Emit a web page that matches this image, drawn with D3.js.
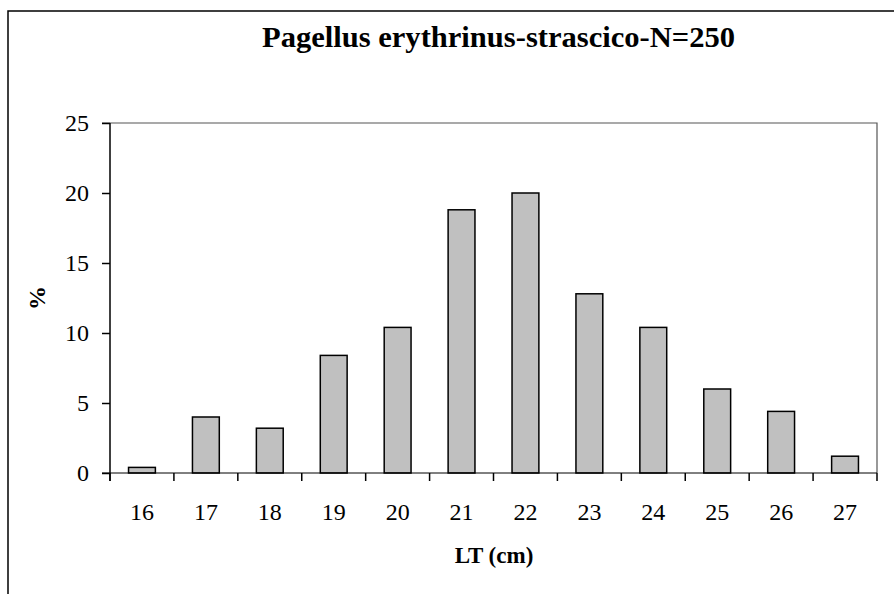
<!DOCTYPE html>
<html>
<head>
<meta charset="utf-8">
<script src="https://cdn.jsdelivr.net/npm/d3@7"></script>
<style>
  body { margin: 0; background: #fff; }
  svg { display: block; }
  text { font-family: "Liberation Serif", "Times New Roman", "DejaVu Serif", serif; }
</style>
</head>
<body>
<svg id="chart" width="894" height="594"></svg>
<script>
// chart data
const title = "Pagellus erythrinus-strascico-N=250";
const xLabel = "LT (cm)";
const yLabel = "%";
const lengths = [16, 17, 18, 19, 20, 21, 22, 23, 24, 25, 26, 27];
const percents = [0.4, 4.0, 3.2, 8.4, 10.4, 18.8, 20.0, 12.8, 10.4, 6.0, 4.4, 1.2];
const yTicks = [0, 5, 10, 15, 20, 25];

const svg = d3.select("#chart");

// outer chart frame (runs past the right and bottom edges)
svg.append("path")
    .attr("d", "M8,600V11H900")
    .attr("fill", "none")
    .attr("stroke", "#000")
    .attr("stroke-width", 1.5);

let plot = { left: 110, right: 877, top: 123, bottom: 473 };

let xScale = d3.scaleBand()
        .domain(lengths)
        .range([plot.left, plot.right])
        .padding(0);
let yScale = d3.scaleLinear()
        .domain([0, 25])
        .range([plot.bottom, plot.top]);

// plot area border (top + right)
svg.append("path")
    .attr("d", "M" + (plot.left - 8) + "," + plot.top + "H" + plot.right + "V" + plot.bottom)
    .attr("fill", "none")
    .attr("stroke", "#555")
    .attr("stroke-width", 1.2);

// bars
let barW = xScale.bandwidth() * 0.42;
svg.append("g")
    .selectAll("rect")
    .data(lengths)
    .join("rect")
    .attr("x", function(d){ return xScale(d) + (xScale.bandwidth() - barW) / 2; })
    .attr("y", function(d, i){ return yScale(percents[i]); })
    .attr("width", barW)
    .attr("height", function(d, i){ return yScale(0) - yScale(percents[i]); })
    .attr("fill", "#c0c0c0")
    .attr("stroke", "#000")
    .attr("stroke-width", 1.5);

// y axis
let yAxis = d3.axisLeft(yScale)
        .tickValues(yTicks)
        .tickSize(8)
        .tickPadding(13);
let gy = svg.append("g")
    .attr("transform", "translate(" + plot.left + ",0)")
    .call(yAxis);
gy.select(".domain").attr("d", "M0," + plot.top + "V" + (plot.bottom + 8));
gy.attr("font-family", null).attr("font-size", null);

// x axis, ticks on category boundaries
let boundaries = lengths.map(function(d){ return xScale(d); }).concat([plot.right]);
let gx = svg.append("g")
    .attr("transform", "translate(0," + plot.bottom + ")");
gx.append("path")
    .attr("d", "M" + (plot.left - 8) + ",0H" + plot.right)
    .attr("stroke", "#000");
gx.selectAll(".tick-line")
    .data(boundaries)
    .join("line")
    .attr("x1", function(d){ return d; })
    .attr("x2", function(d){ return d; })
    .attr("y1", 0)
    .attr("y2", 8)
    .attr("stroke", "#000");
gx.selectAll(".tick-label")
    .data(lengths)
    .join("text")
    .attr("x", function(d){ return xScale(d) + xScale.bandwidth() / 2; })
    .attr("y", 47)
    .attr("text-anchor", "middle")
    .text(function(d){ return d; });

svg.selectAll(".domain, line").attr("stroke", "#000").attr("stroke-width", 1.5);
svg.selectAll("text")
    .attr("font-size", 24)
    .attr("fill", "#000");

// title and axis titles
svg.append("text")
    .attr("x", 262)
    .attr("y", 47)
    .attr("font-size", 30)
    .attr("font-weight", "bold")
    .attr("textLength", 473)
    .attr("lengthAdjust", "spacingAndGlyphs")
    .text(title);

svg.append("text")
    .attr("x", 494)
    .attr("y", 563)
    .attr("text-anchor", "middle")
    .attr("font-size", 23)
    .attr("font-weight", "bold")
    .text(xLabel);

svg.append("text")
    .attr("transform", "translate(45,298) rotate(-90)")
    .attr("text-anchor", "middle")
    .attr("font-size", 24)
    .attr("font-weight", "bold")
    .text(yLabel);
</script>
</body>
</html>
